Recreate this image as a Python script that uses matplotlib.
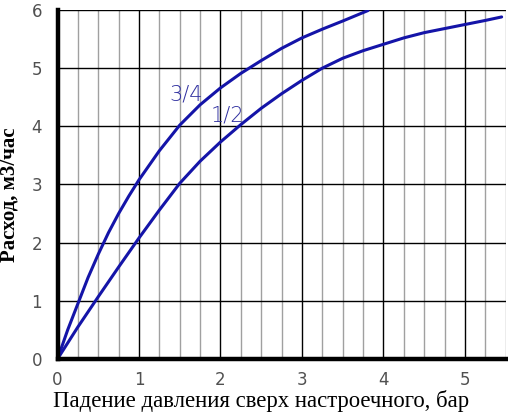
import numpy as np
import matplotlib.pyplot as plt
from matplotlib.ticker import MultipleLocator

# curve readings (pressure drop, bar -> flow, m3/h)
x_34 = [0, 0.125, 0.25, 0.375, 0.5, 0.625, 0.75, 0.875, 1, 1.25, 1.5, 1.75, 2,
        2.25, 2.5, 2.75, 3, 3.25, 3.5, 3.81]
y_34 = [0, 0.5, 0.95, 1.4, 1.8, 2.17, 2.5, 2.8, 3.08, 3.58, 4.02, 4.37, 4.66,
        4.91, 5.13, 5.34, 5.52, 5.67, 5.81, 5.99]

x_12 = [0, 0.25, 0.5, 0.75, 1, 1.25, 1.5, 1.75, 2, 2.25, 2.5, 2.75, 3, 3.25,
        3.5, 3.75, 4, 4.25, 4.5, 4.75, 5, 5.25, 5.45]
y_12 = [0, 0.55, 1.07, 1.58, 2.08, 2.56, 3.02, 3.40, 3.73, 4.03, 4.31, 4.56,
        4.79, 5.0, 5.17, 5.3, 5.41, 5.52, 5.61, 5.68, 5.75, 5.82, 5.88]

labels = ['3/4', '1/2']
label_pos = [(1.58, 4.54), (2.09, 4.19)]

blue = '#1414a8'

fig = plt.figure(figsize=(5.08, 4.15), dpi=100)
ax = fig.add_axes([0.1132, 0.135, 0.8823, 0.841])

ax.plot(x_34, y_34, color=blue, lw=2.2, solid_capstyle='round',
        solid_joinstyle='round', zorder=3)
ax.plot(x_12, y_12, color=blue, lw=2.2, solid_capstyle='round',
        solid_joinstyle='round', zorder=3)
for lab, (lx, ly) in zip(labels, label_pos):
    ax.text(lx, ly, lab, color='#3030a0', fontsize=15, ha='center', va='center',
            fontweight='light', zorder=4)

ax.set_xlim(0, 5.5)
ax.set_ylim(0, 6)
ax.xaxis.set_major_locator(MultipleLocator(1))
ax.xaxis.set_minor_locator(MultipleLocator(0.25))
ax.yaxis.set_major_locator(MultipleLocator(1))
ax.grid(which='minor', axis='x', color='#a0a0a0', lw=1.0)
ax.grid(which='major', axis='x', color='black', lw=1.0)
ax.grid(which='major', axis='y', color='black', lw=1.0)
ax.set_axisbelow(True)

for s in ['top', 'right']:
    ax.spines[s].set_visible(False)
for s in ['left', 'bottom']:
    ax.spines[s].set_linewidth(3.2)
    ax.spines[s].set_zorder(5)

ax.tick_params(which='both', length=0, labelcolor='#505050', labelsize=12)
ax.tick_params(axis='x', pad=9)
ax.tick_params(axis='y', pad=11)

ax.set_xlabel('Падение давления сверх настроечного, бар', family='Liberation Serif',
              fontsize=16.4)
ax.xaxis.set_label_coords(0.454, -0.088)
ax.set_ylabel('Расход, м3/час', family='Liberation Serif', fontsize=15,
              fontweight='bold')
ax.yaxis.set_label_coords(-0.084, 0.47)

fig.savefig('out.png', dpi=100)
